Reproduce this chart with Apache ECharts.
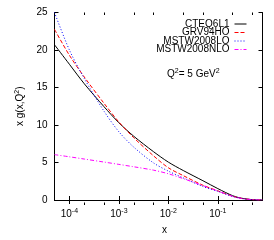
<!DOCTYPE html>
<html><head><meta charset="utf-8">
<script src="https://cdn.jsdelivr.net/npm/echarts@6/dist/echarts.min.js"></script>
<style>html,body{margin:0;padding:0;background:#fff}#c{width:274px;height:240px}</style>
</head><body><div id="c"></div>
<script>
const xs = [5e-5, 1e-4, 2e-4, 5e-4, 1e-3, 2e-3, 5e-3, 1e-2, 2e-2, 5e-2, 0.1, 0.2, 0.3, 0.5, 0.7, 0.8];
const cteq6l1   = [20.7, 18.1, 15.5, 12.45, 10.3, 8.5, 6.45, 5.05, 3.93, 2.57, 1.52, 0.57, 0.24, 0.04, 0.003, 0];
const grv94ho   = [22.75, 19.3, 16.4, 12.9, 10.4, 8.3, 5.9, 4.3, 3.25, 1.97, 1.22, 0.5, 0.22, 0.04, 0.003, 0];
const mstw08lo  = [25.0, 20.0, 16.2, 11.85, 9.1, 7.05, 4.95, 3.85, 2.95, 1.8, 1.15, 0.47, 0.2, 0.04, 0.003, 0];
const mstw08nlo = [6.05, 5.76, 5.46, 5.06, 4.75, 4.43, 3.98, 3.5, 2.85, 1.92, 1.2, 0.48, 0.21, 0.04, 0.003, 0];
const seriesNames = ['CTEQ6L1', 'GRV94HO', 'MSTW2008LO', 'MSTW2008NLO'];
const majorX = [1e-4, 1e-3, 1e-2, 1e-1];
const minorX = [2e-4, 5e-4, 2e-3, 5e-3, 2e-2, 5e-2, 0.2, 0.5];
const yTicks = [0, 5, 10, 15, 20, 25];

const F = 'Liberation Sans, Arial, sans-serif';
const pair = (arr) => xs.map((x, i) => [x, arr[i]]);
const G = {left: 54.5, right: 11.5, top: 12.5, bottom: 35};
const xBase = {type: 'log', logBase: 10, min: 5e-5, max: 0.8, splitLine: {show: false}};

const chart = echarts.init(document.getElementById('c'), null, {renderer: 'canvas'});
const styles = [
  {color: '#000000', type: 'solid'},
  {color: '#ff0000', type: [4, 2]},
  {color: '#0000ff', type: [1, 2]},
  {color: '#ff00ff', type: [4, 2, 1, 2]}
];
const datas = [cteq6l1, grv94ho, mstw08lo, mstw08nlo];
chart.setOption({
  animation: false,
  textStyle: {fontFamily: F},
  grid: [Object.assign({}, G), Object.assign({}, G)],
  legend: {
    orient: 'vertical', align: 'right', right: 22, top: 14,
    itemWidth: 12, itemHeight: 8, itemGap: -1.5,
    itemStyle: {color: 'rgba(0,0,0,0)', borderWidth: 0, opacity: 0},
    lineStyle: {width: 1},
    textStyle: {fontSize: 10, color: '#000', lineHeight: 9, fontFamily: F},
    data: seriesNames
  },
  xAxis: [
    Object.assign({}, xBase, {gridIndex: 0, position: 'bottom',
      axisLine: {lineStyle: {color: '#000', width: 1}},
      axisTick: {inside: true, length: 4, customValues: majorX, lineStyle: {color: '#000'}},
      axisLabel: {customValues: majorX, margin: 8, color: '#000', fontSize: 10,
        formatter: v => '{b|10}{s|' + Math.round(Math.log10(v)) + '}',
        rich: {b: {fontSize: 10, fontFamily: F, color: '#000'}, s: {fontSize: 7, fontFamily: F, color: '#000', padding: [0, 0, 6, 0]}}},
      name: 'x', nameLocation: 'middle', nameGap: 25,
      nameTextStyle: {fontSize: 10, color: '#000', fontFamily: F, padding: [0, 0, 0, 12]}}),
    Object.assign({}, xBase, {gridIndex: 0, position: 'top',
      axisLine: {lineStyle: {color: '#000', width: 1}},
      axisTick: {inside: true, length: 4, customValues: majorX, lineStyle: {color: '#000'}},
      axisLabel: {show: false}}),
    Object.assign({}, xBase, {gridIndex: 1, position: 'bottom',
      axisLine: {show: false},
      axisTick: {inside: true, length: 2.5, customValues: minorX, lineStyle: {color: '#000'}},
      axisLabel: {show: false}}),
    Object.assign({}, xBase, {gridIndex: 1, position: 'top',
      axisLine: {show: false},
      axisTick: {inside: true, length: 2.5, customValues: minorX, lineStyle: {color: '#000'}},
      axisLabel: {show: false}})
  ],
  yAxis: [
    {type: 'value', gridIndex: 0, position: 'left', min: 0, max: 25, interval: 5,
      splitLine: {show: false},
      axisLine: {show: true, lineStyle: {color: '#000', width: 1}},
      axisTick: {inside: true, length: 4, lineStyle: {color: '#000'}},
      axisLabel: {margin: 7, color: '#000', fontSize: 10, fontFamily: F,
        formatter: v => yTicks.indexOf(v) >= 0 ? String(v) : ''},
      name: 'x g(x,Q{s|2})', nameLocation: 'middle', nameRotate: 90, nameGap: 20,
      nameTextStyle: {fontSize: 10, color: '#000', fontFamily: F,
        rich: {s: {fontSize: 7, fontFamily: F, color: '#000', padding: [0, 0, 6, 0]}}}},
    {type: 'value', gridIndex: 0, position: 'right', min: 0, max: 25, interval: 5,
      splitLine: {show: false},
      axisLine: {show: true, lineStyle: {color: '#000', width: 1}},
      axisTick: {inside: true, length: 4, lineStyle: {color: '#000'}},
      axisLabel: {show: false}},
    {type: 'value', gridIndex: 1, min: 0, max: 25, show: false}
  ],
  graphic: [{
    type: 'text', left: 167, top: 68,
    style: {text: 'Q{s|2}= 5 GeV{s|2}', fontSize: 10, fontFamily: F, fill: '#000',
      rich: {s: {fontSize: 7, fontFamily: F, fill: '#000', padding: [0, 0, 6, 0]}}}
  }],
  series: seriesNames.map((n, i) => ({
    name: n, type: 'line', xAxisIndex: 0, yAxisIndex: 0,
    data: pair(datas[i]), symbol: 'none', smooth: 0.3,
    lineStyle: {color: styles[i].color, width: 1, type: styles[i].type},
    itemStyle: {color: styles[i].color}
  }))
});
</script></body></html>
